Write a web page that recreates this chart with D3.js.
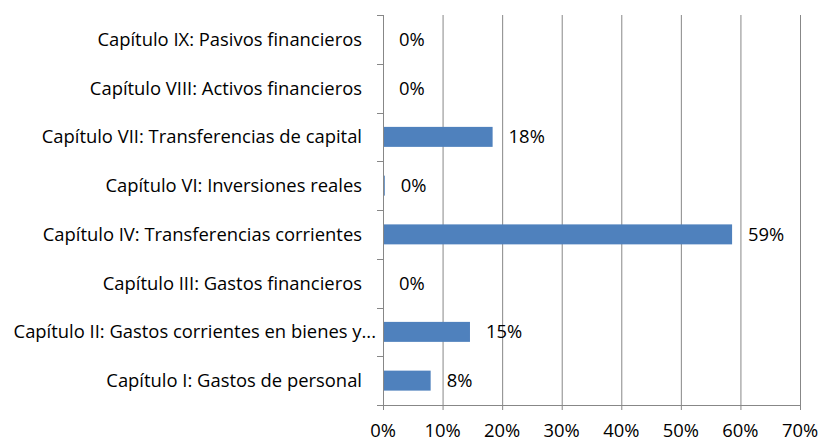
<!DOCTYPE html>
<html>
<head>
<meta charset="utf-8">
<script src="https://cdn.jsdelivr.net/npm/d3@7"></script>
<style>
  body { margin: 0; background: #fff; }
  text { font-family: "Open Sans", sans-serif; fill: #000; }
</style>
</head>
<body>
<div id="canvas"></div>
<script>
var w = 818;
var h = 442;

// categories top to bottom
var capitulos = [
    "Capítulo IX: Pasivos financieros",
    "Capítulo VIII: Activos financieros",
    "Capítulo VII: Transferencias de capital",
    "Capítulo VI: Inversiones reales",
    "Capítulo IV: Transferencias corrientes",
    "Capítulo III: Gastos financieros",
    "Capítulo II: Gastos corrientes en bienes y...",
    "Capítulo I: Gastos de personal"
];
var porcentajes = [0, 0, 0.184, 0.003, 0.586, 0, 0.146, 0.080];
var ticks = [0, 0.1, 0.2, 0.3, 0.4, 0.5, 0.6, 0.7];

var margin = {top: 15, right: 18, bottom: 37, left: 383};
var fs = "18.4px";

var svg = d3.select("#canvas").append("svg")
    .attr("width", w)
    .attr("height", h);

var x = d3.scaleLinear()
    .domain([0, 0.7])
    .range([margin.left, w - margin.right]);

var y = d3.scaleBand()
    .domain(capitulos)
    .range([margin.top, h - margin.bottom])
    .paddingInner(0.59)
    .paddingOuter(0.295);

var yEdge = d3.scaleLinear()
    .domain([0, capitulos.length])
    .range([margin.top, h - margin.bottom]);

// vertical gridlines
svg.append("g")
    .selectAll("line")
    .data(ticks.slice(1))
    .join("line")
    .attr("x1", d => x(d) + 0.5)
    .attr("x2", d => x(d) + 0.5)
    .attr("y1", margin.top)
    .attr("y2", h - margin.bottom)
    .attr("stroke", "#878787")
    .attr("stroke-width", 1);

// bars
svg.append("g")
    .selectAll("rect")
    .data(porcentajes)
    .join("rect")
    .attr("x", x(0))
    .attr("y", (d, i) => y(capitulos[i]))
    .attr("width", d => x(d) - x(0))
    .attr("height", y.bandwidth())
    .attr("fill", "#4F81BD");

// vertical axis line + category ticks
var axisG = svg.append("g");
axisG.append("line")
    .attr("x1", x(0) + 0.5).attr("x2", x(0) + 0.5)
    .attr("y1", margin.top).attr("y2", h - margin.bottom + 5)
    .attr("stroke", "#878787");
axisG.selectAll("line.tk")
    .data(d3.range(capitulos.length + 1))
    .join("line")
    .attr("class", "tk")
    .attr("x1", x(0) - 6).attr("x2", x(0))
    .attr("y1", d => Math.round(yEdge(d)) + 0.5)
    .attr("y2", d => Math.round(yEdge(d)) + 0.5)
    .attr("stroke", "#878787");

// horizontal axis ticks
axisG.append("line")
    .attr("x1", x(0)).attr("x2", x(0.7) + 1)
    .attr("y1", h - margin.bottom + 0.5).attr("y2", h - margin.bottom + 0.5)
    .attr("stroke", "#878787");
axisG.selectAll("line.xt")
    .data(ticks)
    .join("line")
    .attr("class", "xt")
    .attr("x1", d => x(d) + 0.5).attr("x2", d => x(d) + 0.5)
    .attr("y1", h - margin.bottom).attr("y2", h - margin.bottom + 5)
    .attr("stroke", "#878787");

// x tick labels
svg.append("g")
    .selectAll("text")
    .data(ticks)
    .join("text")
    .attr("x", d => x(d))
    .attr("y", 437)
    .attr("text-anchor", "middle")
    .style("font-size", fs)
    .text(d3.format(".0%"));

// category labels
svg.append("g")
    .selectAll("text")
    .data(capitulos)
    .join("text")
    .attr("x", d => d.endsWith("...") ? 376 : 362)
    .attr("y", d => y(d) + y.bandwidth() / 2)
    .attr("dy", "0.35em")
    .attr("text-anchor", "end")
    .style("font-size", fs)
    .text(d => d);

// value labels
svg.append("g")
    .selectAll("text")
    .data(porcentajes)
    .join("text")
    .attr("x", d => x(d) + 16)
    .attr("y", (d, i) => y(capitulos[i]) + y.bandwidth() / 2)
    .attr("dy", "0.35em")
    .style("font-size", fs)
    .text(d3.format(".0%"));
</script>
</body>
</html>
